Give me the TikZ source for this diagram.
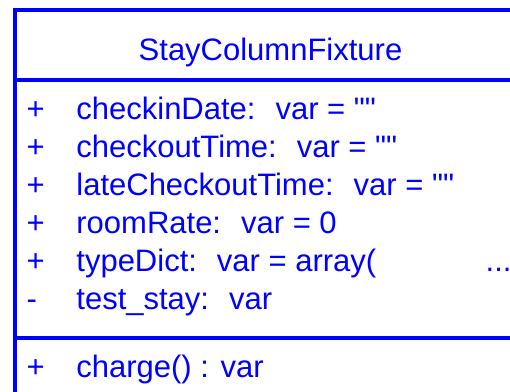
\documentclass[tikz,border=0pt]{standalone}
\usepackage{fontspec}
% plain text mapping so that " stays a straight double quote
\setmainfont{Liberation Sans}[Ligatures=TeXOff]
\definecolor{umlblue}{RGB}{0,0,255}
\begin{document}
\begin{tikzpicture}[x=1pt,y=-1pt,
  umlline/.style={draw=umlblue, line width=4.2pt},
  umltext/.style={text=umlblue, font=\fontsize{31}{37}\selectfont, inner sep=0pt, anchor=base west},
  umltitle/.style={umltext, anchor=base},
]
\useasboundingbox (0,0) rectangle (510,391);
\clip (0,0) rectangle (510,391);
% class frame and compartment separators (frame runs past the page)
\draw[umlline] (15.3,10) rectangle (560,430);
\draw[umlline] (15.3,79.7) -- (560,79.7);
\draw[umlline] (15.3,338.3) -- (560,338.3);
% class name
\node[umltitle] (title) at (270.5,60.7) {StayColumnFixture};
% attributes
\node[umltext] (v1) at (26.5,119.3) {+};
\node[umltext] (a1) at (76.2,119.3) {checkinDate:\hspace{20pt}var = ""};
\node[umltext] (v2) at (26.5,157.3) {+};
\node[umltext] (a2) at (76.2,157.3) {checkoutTime:\hspace{20pt}var = ""};
\node[umltext] (v3) at (26.5,195.3) {+};
\node[umltext] (a3) at (76.2,195.3) {lateCheckoutTime:\hspace{20pt}var = ""};
\node[umltext] (v4) at (26.5,233.3) {+};
\node[umltext] (a4) at (76.2,233.3) {roomRate:\hspace{20pt}var = 0};
\node[umltext] (v5) at (26.5,271.3) {+};
\node[umltext] (a5) at (76.2,271.3) {typeDict:\hspace{20pt}var = array(};
\node[umltext] (more) at (485.5,271.3) {...};
\node[umltext] (v6) at (26.5,309.3) {-};
\node[umltext] (a6) at (76.2,309.3) {test\_stay:\hspace{20pt}var};
% operations
\node[umltext] (v7) at (26.5,377.3) {+};
\node[umltext] (o1) at (76.2,377.3) {charge() : var};
\end{tikzpicture}
\end{document}
